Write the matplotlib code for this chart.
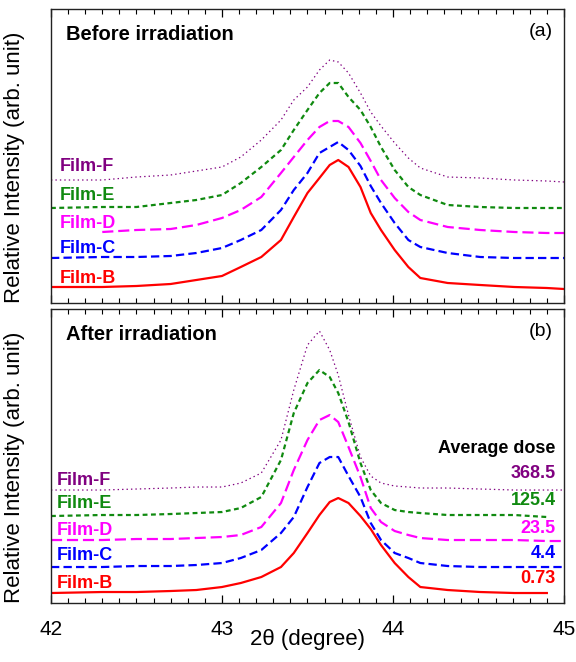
import numpy as np
import matplotlib
matplotlib.use('Agg')
import matplotlib.pyplot as plt
from matplotlib.ticker import MultipleLocator

plt.rcParams['font.family'] = ['Liberation Sans', 'DejaVu Sans']
plt.rcParams['lines.scale_dashes'] = False

# 2theta (degree) sample points, shared by all curves
two_theta = [42.0, 42.3, 42.5, 42.7, 42.85, 43.0, 43.11, 43.23, 43.345, 43.42,
             43.5, 43.57, 43.63, 43.68, 43.74, 43.81, 43.87, 43.93, 44.01, 44.09,
             44.16, 44.32, 44.51, 44.71, 44.9, 45.0]
nan = np.nan

# (a) before irradiation, relative intensity (arb. unit, stacked)
before_B = [16, 16, 17, 19, 23, 27, 36, 46, 63, 86, 110, 125, 138, 143, 136, 116, 90, 73, 53, 36, 25, 20, 18, 16, 15, 14]
before_C = [45, 46, 46, 47, 50, 55, 63, 73, 93, 113, 130, 150, 156, 161, 153, 137, 117, 100, 80, 63, 56, 50, 46, 45, 45, 45]
before_D = [nan, 71, 73, 74, 78, 85, 93, 106, 130, 146, 163, 176, 182, 182, 176, 160, 142, 123, 105, 91, 83, 76, 73, 71, 70, 70]
before_E = [95, 96, 96, 100, 103, 108, 120, 136, 153, 173, 193, 210, 220, 220, 206, 193, 176, 156, 133, 116, 108, 98, 96, 95, 95, 95]
before_F = [123, 123, 126, 128, 132, 136, 146, 163, 183, 203, 216, 233, 243, 241, 230, 210, 191, 177, 160, 145, 135, 126, 125, 123, 122, 121]

# (b) after irradiation
after_B = [10, 11, 11, 12, 13, 16, 20, 26, 36, 50, 70, 88, 101, 105, 100, 87, 74, 58, 40, 26, 16, 13, 11, 10, 10, nan]
after_C = [36, 36, 37, 37, 38, 40, 45, 53, 70, 86, 116, 140, 146, 146, 127, 106, 80, 63, 50, 45, 40, 37, 36, 36, 36, 36]
after_D = [63, 63, 64, 64, 65, 66, 68, 76, 100, 133, 163, 183, 188, 181, 156, 126, 95, 81, 72, 68, 65, 63, 63, 63, 62, 62]
after_E = [87, 88, 88, 89, 90, 91, 95, 106, 143, 190, 220, 233, 226, 210, 181, 140, 113, 100, 93, 91, 90, 88, 88, 88, 86, nan]
after_F = [113, 113, 114, 115, 116, 116, 120, 130, 163, 213, 258, 272, 253, 228, 188, 146, 127, 120, 117, 116, 115, 115, 114, 113, 113, 113]

films = ['Film-B', 'Film-C', 'Film-D', 'Film-E', 'Film-F']
doses = ['0.73', '4.4', '23.5', '125.4', '368.5']

colors = ['#ff0000', '#0000ff', '#ff00ff', '#108a10', '#800080']
styles = [
    dict(ls='-', lw=1.6),
    dict(ls='--', lw=1.6, dashes=(6, 3)),
    dict(ls='--', lw=1.6, dashes=(8, 3.5)),
    dict(ls='--', lw=1.6, dashes=(3.5, 2.5)),
    dict(ls=':', lw=0.9, dashes=(1, 2.2)),
]

fig = plt.figure(figsize=(5.76, 6.62), dpi=100)
ax_a = fig.add_axes([0.0885, 0.5423, 0.8906, 0.4441])
ax_b = fig.add_axes([0.0885, 0.0891, 0.8906, 0.4441])

label_y_a = [0.085, 0.187, 0.272, 0.364, 0.463]
label_y_b = [0.068, 0.163, 0.248, 0.340, 0.418]
dose_y = [0.082, 0.170, 0.255, 0.350, 0.442]

for ax, curves, title, tag, label_x, label_y in [
        (ax_a, [before_B, before_C, before_D, before_E, before_F], 'Before irradiation', '(a)', 0.0175, label_y_a),
        (ax_b, [after_B, after_C, after_D, after_E, after_F], 'After irradiation', '(b)', 0.0117, label_y_b)]:
    for y, c, st, name, ly in zip(curves, colors, styles, films, label_y):
        ax.plot(two_theta, y, color=c, **st)
        ax.text(label_x, ly, name, transform=ax.transAxes, color=c,
                fontsize=13, fontweight='bold', va='center', ha='left')
    ax.text(0.029, 0.912, title, transform=ax.transAxes, fontsize=14.5,
            fontweight='bold', va='center', ha='left')
    ax.text(0.979, 0.922, tag, transform=ax.transAxes, fontsize=14,
            va='center', ha='right')

    ax.set_xlim(42, 45)
    ax.set_ylim(0, 294)
    ax.set_yticks([])
    ax.xaxis.set_major_locator(MultipleLocator(1))
    ax.xaxis.set_minor_locator(MultipleLocator(0.1))
    ax.tick_params(axis='x', which='both', direction='in', top=True, bottom=True)
    ax.tick_params(axis='x', which='major', length=6, width=0.9, labelsize=15, pad=12)
    ax.tick_params(axis='x', which='minor', length=3.5, width=0.8)
    for sp in ax.spines.values():
        sp.set_linewidth(1.0)
        sp.set_color('#222222')
    ax.set_ylabel('Relative Intensity (arb. unit)', fontsize=16)
    ax.yaxis.set_label_coords(-0.05, 0.46)

ax_a.tick_params(axis='x', labelbottom=False)

ax_b.set_xlabel('2\u03b8 (degree)', fontsize=16)
ax_b.xaxis.set_label_coords(0.5, -0.09)

ax_b.text(0.984, 0.527, 'Average dose', transform=ax_b.transAxes, fontsize=13,
          fontweight='bold', ha='right', va='center')
for d, c, dy in zip(doses, colors, dose_y):
    ax_b.text(0.984, dy, d, transform=ax_b.transAxes, color=c, fontsize=13,
              fontweight='bold', ha='right', va='center')

fig.savefig('out.png', dpi=100)
